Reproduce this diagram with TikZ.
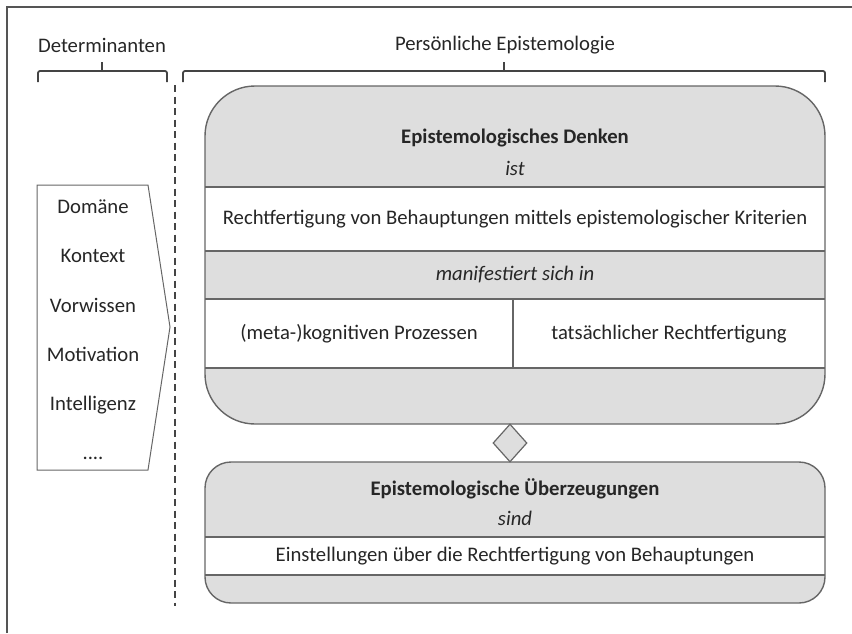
\documentclass[tikz,border=0pt]{standalone}
\usepackage{fontspec}
\setmainfont{Carlito}
\usetikzlibrary{shapes.geometric}
\definecolor{boxgray}{HTML}{DEDEDE}
\definecolor{edgegray}{HTML}{666666}
\definecolor{txtc}{HTML}{262626}
\definecolor{framec}{HTML}{555555}
\newcommand{\lblfont}{\fontsize{20.7}{24}\selectfont}
\tikzset{
  lbl/.style={text=txtc, font=\lblfont, inner sep=0pt},
  lblb/.style={lbl, font=\lblfont\bfseries},
  lbli/.style={lbl, font=\lblfont\itshape},
  boxedge/.style={draw=edgegray, line width=1.4pt},
  bracec/.style={draw=framec!80!black, line width=1.8pt, rounded corners=2pt},
  dashline/.style={draw=framec!80!black, line width=1.8pt, dash pattern=on 7pt off 4.5pt},
}
\begin{document}
\begin{tikzpicture}[x=1pt,y=-1pt]
\useasboundingbox (0,0) rectangle (852,633);
% frame
\draw[framec, line width=1.5pt] (7,633) -- (7,7) -- (852,7);

% headings and braces
\node[lbl] (detlbl) at (102,45) {Determinanten};
\node[lbl] (pelbl) at (505,45) {Persönliche Epistemologie};
\draw[bracec] (38,82) -- (38,71) -- (167,71) -- (167,82);
\draw[bracec] (102,71) -- (102,62);
\draw[bracec] (183,82) -- (183,71) -- (825,71) -- (825,82);
\draw[bracec] (504,71) -- (504,62);

% dashed separator
\coordinate (dtop) at (175,85);
\coordinate (dbot) at (175,606);
\draw[dashline] (dtop) -- (dbot);

% determinants pentagon
\draw[draw=edgegray, line width=1pt, fill=white] (37,185) -- (148,185) -- (170,327) -- (148,470) -- (37,470) -- cycle;
\node[lbl] (d1) at (93,207) {Domäne};
\node[lbl] (d2) at (93,256) {Kontext};
\node[lbl] (d3) at (93,305) {Vorwissen};
\node[lbl] (d4) at (93,354) {Motivation};
\node[lbl] (d5) at (93,405) {Intelligenz};
\node[lbl] (d6) at (93,458) {....};

% top box: epistemologisches Denken
\fill[boxgray, rounded corners=50pt] (205,86) rectangle (825,424);
\fill[white] (205,187) rectangle (825,251);
\fill[white] (205,299) rectangle (825,368);
\draw[boxedge] (205,187) -- (825,187);
\draw[boxedge] (205,251) -- (825,251);
\draw[boxedge] (205,299) -- (825,299);
\draw[boxedge] (205,368) -- (825,368);
\draw[boxedge] (513,299) -- (513,368);
\draw[boxedge, rounded corners=50pt] (205,86) rectangle (825,424);
\node[lblb] (denken) at (515,138) {Epistemologisches Denken};
\node[lbli] (ist) at (515,168) {ist};
\node[lbl] (recht) at (515,219) {Rechtfertigung von Behauptungen mittels epistemologischer Kriterien};
\node[lbli] (manif) at (515,275) {manifestiert sich in};
\node[lbl] (meta) at (359,334) {(meta-)kognitiven Prozessen};
\node[lbl] (tats) at (669,334) {tatsächlicher Rechtfertigung};

% bottom box: Überzeugungen
\fill[boxgray, rounded corners=26pt] (205,462) rectangle (825,603);
\fill[white] (205,537) rectangle (825,575);
\draw[boxedge] (205,537) -- (825,537);
\draw[boxedge] (205,575) -- (825,575);
\draw[boxedge, rounded corners=26pt] (205,462) rectangle (825,603);
\node[lblb] (ueber) at (515,489) {Epistemologische Überzeugungen};
\node[lbli] (sind) at (515,518) {sind};
\node[lbl] (einst) at (515,556) {Einstellungen über die Rechtfertigung von Behauptungen};

% diamond connector
\node[diamond, draw=edgegray, line width=1.2pt, fill=boxgray, inner sep=0pt,
      minimum width=34pt, minimum height=38pt] (dia) at (510,443) {};
\end{tikzpicture}
\end{document}
